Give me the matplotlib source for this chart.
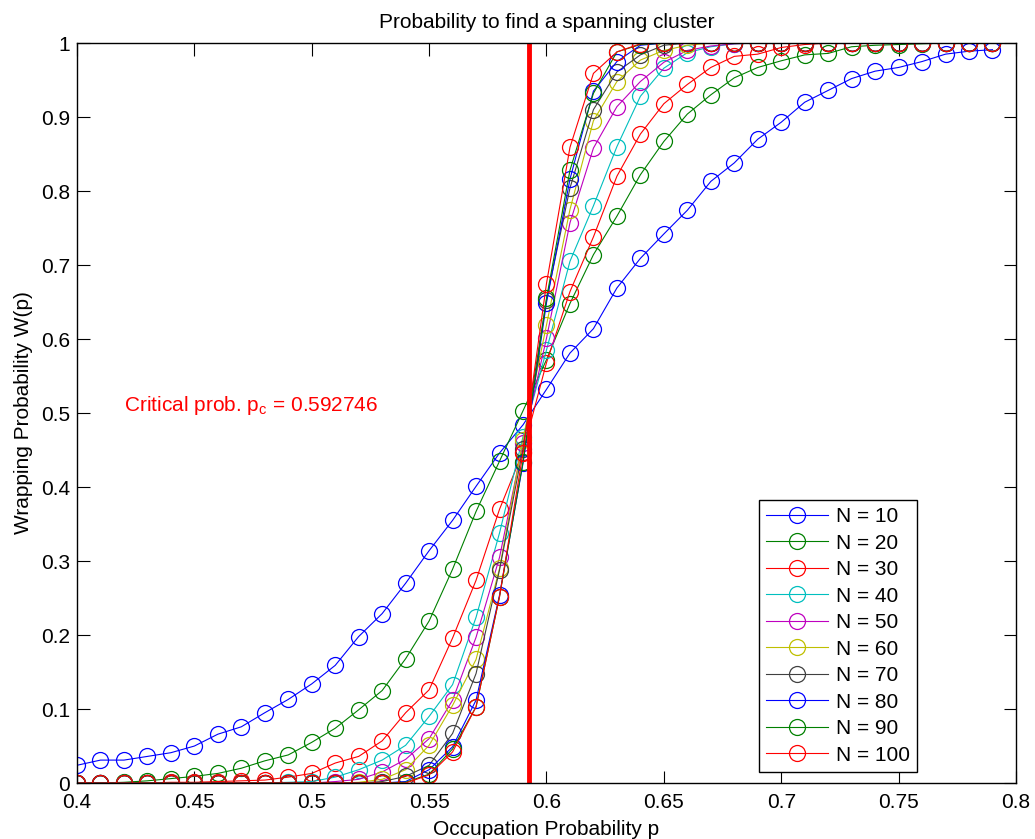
"""
Wrapping probability W(p) for site percolation on N x N lattices.
"""

import matplotlib
matplotlib.use("Agg")
import matplotlib.pyplot as plt
import numpy as np

# occupation probabilities (0.40 ... 0.79)
p = [0.40, 0.41, 0.42, 0.43, 0.44, 0.45, 0.46, 0.47, 0.48, 0.49,
     0.50, 0.51, 0.52, 0.53, 0.54, 0.55, 0.56, 0.57, 0.58, 0.59,
     0.60, 0.61, 0.62, 0.63, 0.64, 0.65, 0.66, 0.67, 0.68, 0.69,
     0.70, 0.71, 0.72, 0.73, 0.74, 0.75, 0.76, 0.77, 0.78, 0.79]

sizes = [10, 20, 30, 40, 50, 60, 70, 80, 90, 100]

w10 = [0.024, 0.031, 0.031, 0.036, 0.041, 0.050, 0.066, 0.076, 0.095, 0.113,
       0.134, 0.159, 0.198, 0.229, 0.270, 0.314, 0.355, 0.401, 0.446, 0.484,
       0.532, 0.581, 0.614, 0.669, 0.709, 0.742, 0.774, 0.813, 0.838, 0.870,
       0.893, 0.920, 0.936, 0.952, 0.962, 0.967, 0.975, 0.985, 0.989, 0.991]
w20 = [0.000, 0.000, 0.001, 0.003, 0.006, 0.009, 0.013, 0.020, 0.030, 0.038,
       0.055, 0.074, 0.099, 0.125, 0.168, 0.219, 0.289, 0.367, 0.435, 0.503,
       0.572, 0.648, 0.714, 0.766, 0.822, 0.867, 0.904, 0.930, 0.953, 0.967,
       0.976, 0.984, 0.986, 0.995, 0.997, 0.998, 0.999, 1.000, 1.000, 1.000]
w30 = [0.000, 0.000, 0.000, 0.000, 0.001, 0.001, 0.002, 0.003, 0.004, 0.008,
       0.013, 0.027, 0.036, 0.057, 0.095, 0.126, 0.196, 0.274, 0.370, 0.448,
       0.568, 0.664, 0.738, 0.820, 0.877, 0.918, 0.944, 0.967, 0.982, 0.985,
       0.994, 0.998, 1.000, 1.000, 1.000, 1.000, 1.000, 1.000, 1.000, 1.000]
w40 = [0.000, 0.000, 0.000, 0.000, 0.000, 0.000, 0.000, 0.000, 0.000, 0.001,
       0.002, 0.008, 0.018, 0.031, 0.051, 0.090, 0.133, 0.224, 0.338, 0.468,
       0.585, 0.705, 0.780, 0.860, 0.928, 0.966, 0.987, 0.995, 0.999, 1.000,
       1.000, 1.000, 1.000, 1.000, 1.000, 1.000, 1.000, 1.000, 1.000, 1.000]
w50 = [0.000, 0.000, 0.000, 0.000, 0.000, 0.000, 0.000, 0.000, 0.000, 0.000,
       0.000, 0.002, 0.005, 0.015, 0.032, 0.060, 0.112, 0.197, 0.305, 0.460,
       0.601, 0.757, 0.858, 0.914, 0.948, 0.974, 0.990, 0.996, 0.999, 1.000,
       1.000, 1.000, 1.000, 1.000, 1.000, 1.000, 1.000, 1.000, 1.000, 1.000]
w60 = [0.000, 0.000, 0.000, 0.000, 0.000, 0.000, 0.000, 0.000, 0.000, 0.000,
       0.000, 0.000, 0.001, 0.005, 0.018, 0.051, 0.105, 0.167, 0.290, 0.464,
       0.619, 0.775, 0.895, 0.948, 0.977, 0.990, 0.997, 1.000, 1.000, 1.000,
       1.000, 1.000, 1.000, 1.000, 1.000, 1.000, 1.000, 1.000, 1.000, 1.000]
w70 = [0.000, 0.000, 0.000, 0.000, 0.000, 0.000, 0.000, 0.000, 0.000, 0.000,
       0.000, 0.000, 0.000, 0.002, 0.009, 0.024, 0.067, 0.148, 0.288, 0.452,
       0.653, 0.804, 0.910, 0.961, 0.984, 0.997, 1.000, 1.000, 1.000, 1.000,
       1.000, 1.000, 1.000, 1.000, 1.000, 1.000, 1.000, 1.000, 1.000, 1.000]
w80 = [0.000, 0.000, 0.000, 0.000, 0.000, 0.000, 0.000, 0.000, 0.000, 0.000,
       0.000, 0.000, 0.000, 0.000, 0.002, 0.018, 0.049, 0.112, 0.254, 0.432,
       0.649, 0.816, 0.935, 0.975, 0.997, 1.000, 1.000, 1.000, 1.000, 1.000,
       1.000, 1.000, 1.000, 1.000, 1.000, 1.000, 1.000, 1.000, 1.000, 1.000]
w90 = [0.000, 0.000, 0.000, 0.000, 0.000, 0.000, 0.000, 0.000, 0.000, 0.000,
       0.000, 0.000, 0.000, 0.000, 0.001, 0.012, 0.046, 0.103, 0.252, 0.434,
       0.655, 0.828, 0.932, 0.988, 0.998, 1.000, 1.000, 1.000, 1.000, 1.000,
       1.000, 1.000, 1.000, 1.000, 1.000, 1.000, 1.000, 1.000, 1.000, 1.000]
w100 = [0.000, 0.000, 0.000, 0.000, 0.000, 0.000, 0.000, 0.000, 0.000, 0.000,
        0.000, 0.000, 0.000, 0.000, 0.000, 0.011, 0.042, 0.103, 0.252, 0.446,
        0.675, 0.859, 0.959, 0.988, 0.999, 1.000, 1.000, 1.000, 1.000, 1.000,
        1.000, 1.000, 1.000, 1.000, 1.000, 1.000, 1.000, 1.000, 1.000, 1.000]

curves = [w10, w20, w30, w40, w50, w60, w70, w80, w90, w100]

p_c = 0.592746

x_ticks = [0.4, 0.45, 0.5, 0.55, 0.6, 0.65, 0.7, 0.75, 0.8]
x_ticklabels = ["0.4", "0.45", "0.5", "0.55", "0.6", "0.65", "0.7", "0.75", "0.8"]
y_ticks = [0, 0.1, 0.2, 0.3, 0.4, 0.5, 0.6, 0.7, 0.8, 0.9, 1]
y_ticklabels = ["0", "0.1", "0.2", "0.3", "0.4", "0.5", "0.6", "0.7", "0.8", "0.9", "1"]

# old matlab line colour order
colors = [(0, 0, 1), (0, 0.5, 0), (1, 0, 0), (0, 0.75, 0.75),
          (0.75, 0, 0.75), (0.75, 0.75, 0), (0.25, 0.25, 0.25)]

plt.rcParams.update({
    "font.family": ["Liberation Sans", "DejaVu Sans"],
    "font.size": 15,
    "axes.linewidth": 1.0,
})

fig = plt.figure(figsize=(10.35, 8.39), dpi=100)
ax = fig.add_axes([0.0744, 0.0667, 0.9072, 0.882])

for i, (n, w) in enumerate(zip(sizes, curves)):
    ax.plot(p, w, "-o", color=colors[i % len(colors)], lw=0.8,
            ms=11.5, mfc="none", mew=0.9, label=f"N = {n}")

ax.axvline(p_c, color="red", lw=3.5)
ax.text(0.42, 0.51, f"Critical prob. $\\mathregular{{p_c}}$ = {p_c}",
        color="red", fontsize=15, va="center", ha="left")

ax.set_xlim(0.4, 0.8)
ax.set_ylim(0, 1)
ax.set_xticks(x_ticks)
ax.set_xticklabels(x_ticklabels)
ax.set_yticks(y_ticks)
ax.set_yticklabels(y_ticklabels)
ax.tick_params(direction="in", length=9, width=0.8, top=True, right=True,
               labelsize=15)
ax.tick_params(axis="x", pad=7)
ax.tick_params(axis="y", pad=5)

ax.set_xlabel("Occupation Probability p", fontsize=15, labelpad=6)
ax.set_ylabel("Wrapping Probability W(p)", fontsize=15, labelpad=6)
ax.set_title("Probability to find a spanning cluster", fontsize=15, pad=11)

leg = ax.legend(loc="lower right", bbox_to_anchor=(0.8946, 0.0149),
                borderaxespad=0, fancybox=False, framealpha=1,
                edgecolor="black", handlelength=3.0, handletextpad=0.35,
                labelspacing=0.36, borderpad=0.35, fontsize=15)
leg.get_frame().set_linewidth(1.0)

fig.savefig("out.png", dpi=100)
